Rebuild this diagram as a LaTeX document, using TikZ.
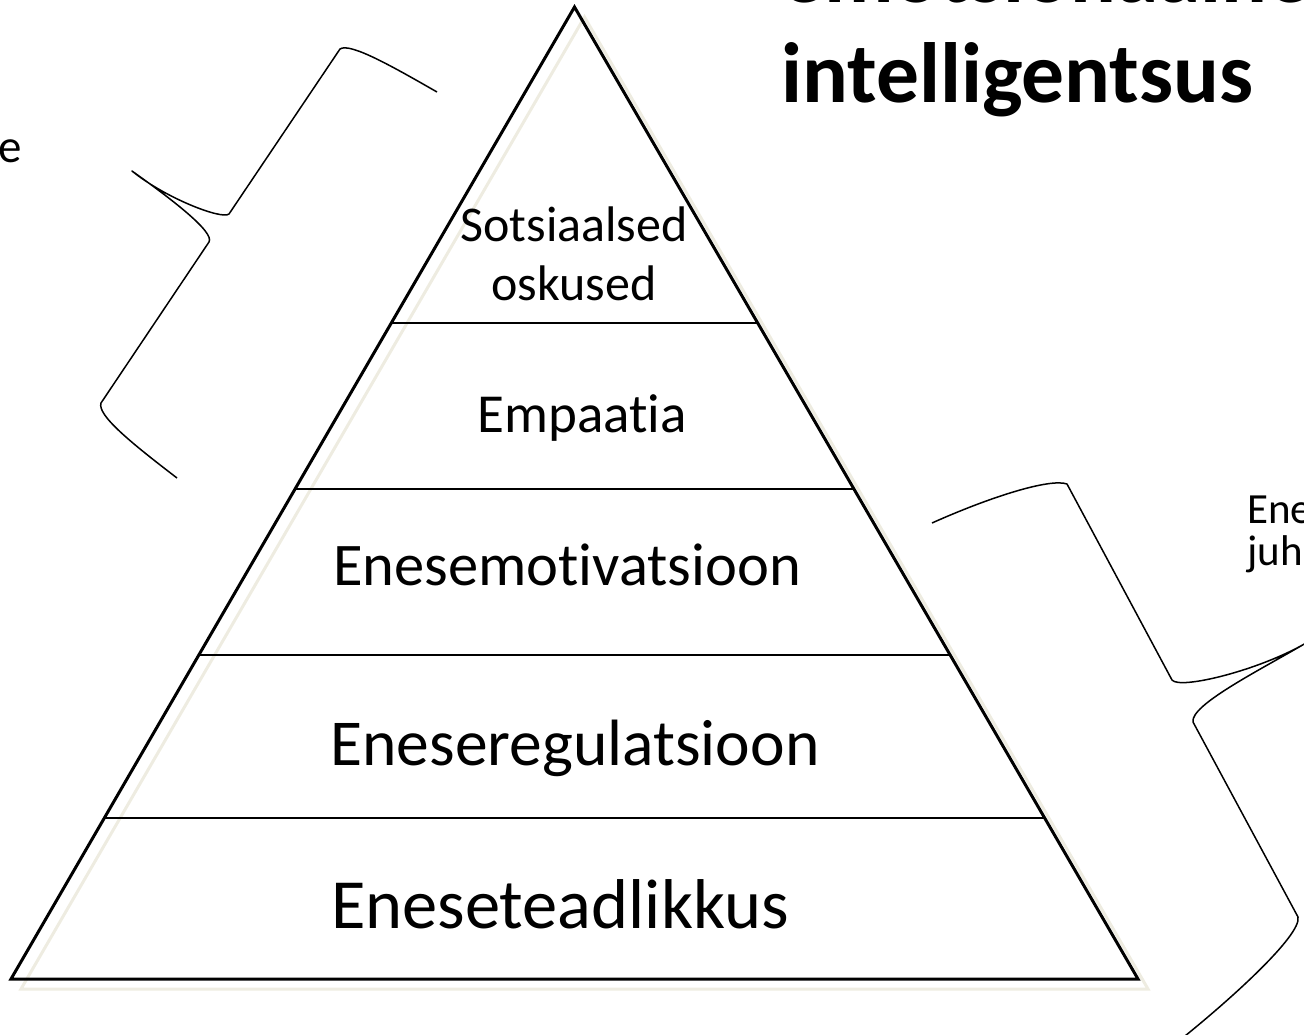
\documentclass[tikz,border=0pt]{standalone}
\usepackage{fontspec}
\setmainfont{Carlito}[Ligatures={NoCommon,NoContextual},Contextuals={NoAlternate}]
\usepackage{tikz}
\usetikzlibrary{calc}
\definecolor{shade}{RGB}{238,236,225}

\begin{document}
\begin{tikzpicture}[x=1pt,y=-1pt,
        lbl/.style={anchor=base,inner sep=0pt},
        side/.style={line width=3pt,line join=miter},
        divider/.style={line width=2.4pt},
        brace/.style={line width=1.5pt,line join=round}]
        \useasboundingbox (0,0) rectangle (1304,1035);
        \clip (0,0) rectangle (1304,1035);
        \coordinate (apex) at (574.5,7);
        \coordinate (bl) at (11,979);
        \coordinate (br) at (1138,979);
        % shadow
        \draw[side,color=shade] ([shift={(10,10)}]apex) -- ([shift={(10,10)}]bl) -- ([shift={(10,10)}]br) -- cycle;
        \draw[side] (apex) -- (bl) -- (br) -- cycle;
        \foreach \f in {0.3251,0.4959,0.6667,0.8344}
        \draw[divider] ($(apex)!\f!(bl)$) -- ($(apex)!\f!(br)$);
        % levels
        \node[lbl,font=\fontsize{50}{60}\selectfont] (sots) at (574,242) {Sotsiaalsed};
        \node[lbl,font=\fontsize{50}{60}\selectfont] (osk) at (574,300) {oskused};
        \node[lbl,font=\fontsize{55}{66}\selectfont] (emp) at (582,432) {Empaat\kern0pt ia};
        \node[lbl,font=\fontsize{60.5}{72}\selectfont] (motiv) at (567,585) {Enesemot\kern0pt ivatsioon};
        \node[lbl,font=\fontsize{65.5}{78}\selectfont] (regul) at (575,765) {Eneseregulatsioon};
        \node[lbl,font=\fontsize{70.5}{84}\selectfont] (teadl) at (560,928) {Eneseteadlikkus};
        % title
        \node[lbl,anchor=base west,font=\fontsize{85.5}{100}\selectfont\bfseries] (title1) at (781,3) {emotsionaalne};
        \node[lbl,anchor=base west,font=\fontsize{85.5}{100}\selectfont\bfseries] (title2) at (781,103) {intelligentsus};
        % side texts
        \node[lbl,anchor=base east,font=\fontsize{47}{56}\selectfont] (lefttxt) at (22,163) {e};
        \node[lbl,anchor=base west,font=\fontsize{43}{52}\selectfont] (ene) at (1247,523) {Ene};
        \node[lbl,anchor=base west,font=\fontsize{43}{52}\selectfont] (juh) at (1247,565) {juh};
        % braces
        \draw[brace] (437,92) .. controls (395,68) and (350,42) .. (340,49) -- (229,214)
                .. controls (222,220) and (165,198) .. (132,171)
                .. controls (170,198) and (215,232) .. (209,242) -- (101,403)
                .. controls (97,415) and (130,442) .. (177,478);
        \draw[brace] (932,523) .. controls (990,497) and (1050,478) .. (1067,484) -- (1172,680)
                .. controls (1180,690) and (1260,670) .. (1306,643)
                .. controls (1260,670) and (1190,705) .. (1193,722) -- (1298,917)
                .. controls (1302,935) and (1230,1000) .. (1180,1040);
        \end{tikzpicture}
\end{document}
